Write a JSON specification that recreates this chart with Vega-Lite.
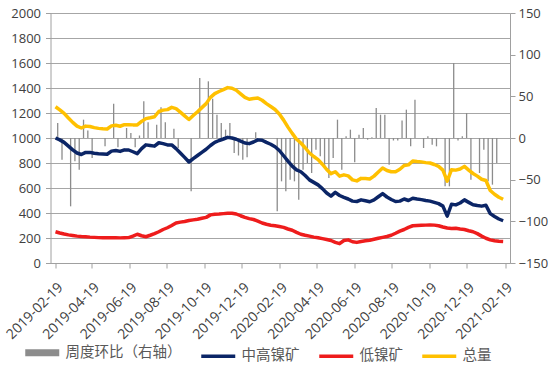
{
  "$schema": "https://vega.github.io/schema/vega-lite/v6.json",
  "width": 459.5,
  "height": 250,
  "autosize": {"type": "none"},
  "padding": {"left": 50.5, "top": 13, "right": 40, "bottom": 103},
  "background": "white",
  "config": {
    "font": "Open Sans",
    "view": {"stroke": null},
    "axis": {
      "labelFont": "Open Sans",
      "labelFontSize": 13,
      "labelColor": "#404040",
      "domainColor": "#a0a0a0",
      "tickColor": "#a0a0a0",
      "gridColor": "#a6a6a6",
      "title": null
    }
  },
  "datasets": {
    "weekly": [
      {"date": "2019-02-19", "中高镍矿": 1000, "低镍矿": 250, "总量": 1250, "周度环比": 18},
      {"date": "2019-02-26", "中高镍矿": 985, "低镍矿": 240, "总量": 1225, "周度环比": -26},
      {"date": "2019-03-05", "中高镍矿": 965, "低镍矿": 232, "总量": 1197, "周度环比": 0},
      {"date": "2019-03-12", "中高镍矿": 935, "低镍矿": 225, "总量": 1160, "周度环比": -82},
      {"date": "2019-03-19", "中高镍矿": 905, "低镍矿": 220, "总量": 1125, "周度环比": -28},
      {"date": "2019-03-26", "中高镍矿": 880, "低镍矿": 215, "总量": 1095, "周度环比": -38},
      {"date": "2019-04-02", "中高镍矿": 868, "低镍矿": 212, "总量": 1080, "周度环比": 22},
      {"date": "2019-04-09", "中高镍矿": 885, "低镍矿": 210, "总量": 1095, "周度环比": 9},
      {"date": "2019-04-16", "中高镍矿": 885, "低镍矿": 207, "总量": 1092, "周度环比": -24},
      {"date": "2019-04-23", "中高镍矿": 878, "低镍矿": 205, "总量": 1083, "周度环比": 0},
      {"date": "2019-04-30", "中高镍矿": 874, "低镍矿": 203, "总量": 1077, "周度环比": 0},
      {"date": "2019-05-07", "中高镍矿": 872, "低镍矿": 202, "总量": 1074, "周度环比": -10},
      {"date": "2019-05-14", "中高镍矿": 870, "低镍矿": 202, "总量": 1072, "周度环比": 0},
      {"date": "2019-05-21", "中高镍矿": 895, "低镍矿": 202, "总量": 1097, "周度环比": 41},
      {"date": "2019-05-28", "中高镍矿": 900, "低镍矿": 202, "总量": 1102, "周度环比": -11},
      {"date": "2019-06-04", "中高镍矿": 893, "低镍矿": 201, "总量": 1094, "周度环比": 0},
      {"date": "2019-06-11", "中高镍矿": 905, "低镍矿": 202, "总量": 1107, "周度环比": 12},
      {"date": "2019-06-18", "中高镍矿": 904, "低镍矿": 203, "总量": 1107, "周度环比": 6},
      {"date": "2019-06-25", "中高镍矿": 890, "低镍矿": 215, "总量": 1105, "周度环比": -11},
      {"date": "2019-07-02", "中高镍矿": 875, "低镍矿": 230, "总量": 1105, "周度环比": 3},
      {"date": "2019-07-09", "中高镍矿": 915, "低镍矿": 218, "总量": 1133, "周度环比": 44},
      {"date": "2019-07-16", "中高镍矿": 945, "低镍矿": 210, "总量": 1155, "周度环比": 19},
      {"date": "2019-07-23", "中高镍矿": 940, "低镍矿": 222, "总量": 1162, "周度环比": 0},
      {"date": "2019-07-30", "中高镍矿": 935, "低镍矿": 235, "总量": 1170, "周度环比": 16},
      {"date": "2019-08-06", "中高镍矿": 962, "低镍矿": 250, "总量": 1212, "周度环比": 37},
      {"date": "2019-08-13", "中高镍矿": 955, "低镍矿": 268, "总量": 1223, "周度环比": 19},
      {"date": "2019-08-20", "中高镍矿": 945, "低镍矿": 282, "总量": 1227, "周度环比": 0},
      {"date": "2019-08-27", "中高镍矿": 945, "低镍矿": 300, "总量": 1245, "周度环比": 11},
      {"date": "2019-09-03", "中高镍矿": 915, "低镍矿": 320, "总量": 1235, "周度环比": -12},
      {"date": "2019-09-10", "中高镍矿": 880, "低镍矿": 327, "总量": 1207, "周度环比": 0},
      {"date": "2019-09-17", "中高镍矿": 845, "低镍矿": 332, "总量": 1177, "周度环比": 0},
      {"date": "2019-09-24", "中高镍矿": 808, "低镍矿": 340, "总量": 1148, "周度环比": -64},
      {"date": "2019-10-01", "中高镍矿": 835, "低镍矿": 345, "总量": 1180, "周度环比": 0},
      {"date": "2019-10-08", "中高镍矿": 860, "低镍矿": 350, "总量": 1210, "周度环比": 72},
      {"date": "2019-10-15", "中高镍矿": 885, "低镍矿": 358, "总量": 1243, "周度环比": 0},
      {"date": "2019-10-22", "中高镍矿": 910, "低镍矿": 365, "总量": 1275, "周度环比": 68},
      {"date": "2019-10-29", "中高镍矿": 940, "低镍矿": 385, "总量": 1325, "周度环比": 47},
      {"date": "2019-11-05", "中高镍矿": 965, "低镍矿": 390, "总量": 1355, "周度环比": 28},
      {"date": "2019-11-12", "中高镍矿": 980, "低镍矿": 392, "总量": 1372, "周度环比": 18},
      {"date": "2019-11-19", "中高镍矿": 992, "低镍矿": 395, "总量": 1387, "周度环比": 10},
      {"date": "2019-11-26", "中高镍矿": 1005, "低镍矿": 398, "总量": 1403, "周度环比": 18},
      {"date": "2019-12-03", "中高镍矿": 1000, "低镍矿": 398, "总量": 1398, "周度环比": -18},
      {"date": "2019-12-10", "中高镍矿": 990, "低镍矿": 392, "总量": 1382, "周度环比": -21},
      {"date": "2019-12-17", "中高镍矿": 975, "低镍矿": 378, "总量": 1353, "周度环比": -26},
      {"date": "2019-12-24", "中高镍矿": 960, "低镍矿": 365, "总量": 1325, "周度环比": -23},
      {"date": "2019-12-31", "中高镍矿": 955, "低镍矿": 355, "总量": 1310, "周度环比": 0},
      {"date": "2020-01-07", "中高镍矿": 968, "低镍矿": 348, "总量": 1316, "周度环比": 7},
      {"date": "2020-01-14", "中高镍矿": 985, "低镍矿": 335, "总量": 1320, "周度环比": 0},
      {"date": "2020-01-21", "中高镍矿": 982, "低镍矿": 320, "总量": 1302, "周度环比": 0},
      {"date": "2020-01-28", "中高镍矿": 965, "低镍矿": 310, "总量": 1275, "周度环比": 0},
      {"date": "2020-02-04", "中高镍矿": 950, "低镍矿": 302, "总量": 1252, "周度环比": 0},
      {"date": "2020-02-11", "中高镍矿": 930, "低镍矿": 298, "总量": 1228, "周度环比": -88},
      {"date": "2020-02-18", "中高镍矿": 900, "低镍矿": 292, "总量": 1192, "周度环比": -52},
      {"date": "2020-02-25", "中高镍矿": 858, "低镍矿": 285, "总量": 1143, "周度环比": -64},
      {"date": "2020-03-03", "中高镍矿": 815, "低镍矿": 272, "总量": 1087, "周度环比": -50},
      {"date": "2020-03-10", "中高镍矿": 775, "低镍矿": 262, "总量": 1037, "周度环比": -52},
      {"date": "2020-03-17", "中高镍矿": 745, "低镍矿": 245, "总量": 990, "周度环比": -74},
      {"date": "2020-03-24", "中高镍矿": 730, "低镍矿": 230, "总量": 960, "周度环比": -38},
      {"date": "2020-03-31", "中高镍矿": 700, "低镍矿": 222, "总量": 922, "周度环比": -30},
      {"date": "2020-04-07", "中高镍矿": 665, "低镍矿": 215, "总量": 880, "周度环比": -42},
      {"date": "2020-04-14", "中高镍矿": 645, "低镍矿": 207, "总量": 852, "周度环比": -14},
      {"date": "2020-04-21", "中高镍矿": 625, "低镍矿": 202, "总量": 827, "周度环比": -22},
      {"date": "2020-04-28", "中高镍矿": 595, "低镍矿": 195, "总量": 790, "周度环比": -34},
      {"date": "2020-05-05", "中高镍矿": 560, "低镍矿": 188, "总量": 748, "周度环比": -48},
      {"date": "2020-05-12", "中高镍矿": 535, "低镍矿": 180, "总量": 715, "周度环比": -24},
      {"date": "2020-05-19", "中高镍矿": 565, "低镍矿": 165, "总量": 730, "周度环比": 22},
      {"date": "2020-05-26", "中高镍矿": 540, "低镍矿": 155, "总量": 695, "周度环比": -38},
      {"date": "2020-06-02", "中高镍矿": 525, "低镍矿": 180, "总量": 705, "周度环比": 2},
      {"date": "2020-06-09", "中高镍矿": 512, "低镍矿": 185, "总量": 697, "周度环比": 10},
      {"date": "2020-06-16", "中高镍矿": 495, "低镍矿": 170, "总量": 665, "周度环比": -29},
      {"date": "2020-06-23", "中高镍矿": 492, "低镍矿": 165, "总量": 657, "周度环比": 4},
      {"date": "2020-06-30", "中高镍矿": 505, "低镍矿": 172, "总量": 677, "周度环比": 12},
      {"date": "2020-07-07", "中高镍矿": 498, "低镍矿": 178, "总量": 676, "周度环比": -2},
      {"date": "2020-07-14", "中高镍矿": 490, "低镍矿": 182, "总量": 672, "周度环比": 1},
      {"date": "2020-07-21", "中高镍矿": 505, "低镍矿": 190, "总量": 695, "周度环比": 36},
      {"date": "2020-07-28", "中高镍矿": 530, "低镍矿": 198, "总量": 728, "周度环比": 28},
      {"date": "2020-08-04", "中高镍矿": 555, "低镍矿": 205, "总量": 760, "周度环比": 28},
      {"date": "2020-08-11", "中高镍矿": 528, "低镍矿": 212, "总量": 740, "周度环比": -32},
      {"date": "2020-08-18", "中高镍矿": 508, "低镍矿": 222, "总量": 730, "周度环比": -3},
      {"date": "2020-08-25", "中高镍矿": 492, "低镍矿": 238, "总量": 730, "周度环比": -3},
      {"date": "2020-09-01", "中高镍矿": 495, "低镍矿": 255, "总量": 750, "周度环比": 21},
      {"date": "2020-09-08", "中高镍矿": 512, "低镍矿": 268, "总量": 780, "周度环比": 34},
      {"date": "2020-09-15", "中高镍矿": 500, "低镍矿": 285, "总量": 785, "周度环比": -10},
      {"date": "2020-09-22", "中高镍矿": 518, "低镍矿": 298, "总量": 816, "周度环比": 46},
      {"date": "2020-09-29", "中高镍矿": 512, "低镍矿": 300, "总量": 812, "周度环比": 0},
      {"date": "2020-10-06", "中高镍矿": 507, "低镍矿": 302, "总量": 809, "周度环比": -12},
      {"date": "2020-10-13", "中高镍矿": 500, "低镍矿": 303, "总量": 803, "周度环比": 2},
      {"date": "2020-10-20", "中高镍矿": 495, "低镍矿": 305, "总量": 800, "周度环比": -8},
      {"date": "2020-10-27", "中高镍矿": 485, "低镍矿": 303, "总量": 788, "周度环比": -10},
      {"date": "2020-11-03", "中高镍矿": 475, "低镍矿": 298, "总量": 773, "周度环比": 0},
      {"date": "2020-11-10", "中高镍矿": 455, "低镍矿": 288, "总量": 743, "周度环比": -58},
      {"date": "2020-11-17", "中高镍矿": 375, "低镍矿": 280, "总量": 655, "周度环比": -58},
      {"date": "2020-11-24", "中高镍矿": 470, "低镍矿": 276, "总量": 746, "周度环比": 90},
      {"date": "2020-12-01", "中高镍矿": 465, "低镍矿": 278, "总量": 743, "周度环比": -3},
      {"date": "2020-12-08", "中高镍矿": 480, "低镍矿": 272, "总量": 752, "周度环比": 2},
      {"date": "2020-12-15", "中高镍矿": 505, "低镍矿": 268, "总量": 773, "周度环比": 30},
      {"date": "2020-12-22", "中高镍矿": 485, "低镍矿": 258, "总量": 743, "周度环比": -50},
      {"date": "2020-12-29", "中高镍矿": 466, "低镍矿": 250, "总量": 716, "周度环比": 0},
      {"date": "2021-01-05", "中高镍矿": 460, "低镍矿": 235, "总量": 695, "周度环比": -42},
      {"date": "2021-01-12", "中高镍矿": 455, "低镍矿": 215, "总量": 670, "周度环比": -14},
      {"date": "2021-01-19", "中高镍矿": 462, "低镍矿": 198, "总量": 660, "周度环比": -52},
      {"date": "2021-01-26", "中高镍矿": 395, "低镍矿": 185, "总量": 580, "周度环比": -56},
      {"date": "2021-02-02", "中高镍矿": 372, "低镍矿": 178, "总量": 550, "周度环比": -30},
      {"date": "2021-02-09", "中高镍矿": 352, "低镍矿": 174, "总量": 526, "周度环比": 0},
      {"date": "2021-02-16", "中高镍矿": 338, "低镍矿": 172, "总量": 510, "周度环比": 0}
    ]
  },
  "data": {"name": "weekly"},
  "encoding": {
    "x": {
      "field": "date",
      "type": "temporal",
      "scale": {
        "type": "utc",
        "domain": [
          {"year": 2019, "month": 2, "date": 19, "utc": true},
          {"year": 2021, "month": 2, "date": 19, "utc": true}
        ]
      },
      "axis": {
        "values": [
          {"year": 2019, "month": 2, "date": 19, "utc": true},
          {"year": 2019, "month": 4, "date": 19, "utc": true},
          {"year": 2019, "month": 6, "date": 19, "utc": true},
          {"year": 2019, "month": 8, "date": 19, "utc": true},
          {"year": 2019, "month": 10, "date": 19, "utc": true},
          {"year": 2019, "month": 12, "date": 19, "utc": true},
          {"year": 2020, "month": 2, "date": 19, "utc": true},
          {"year": 2020, "month": 4, "date": 19, "utc": true},
          {"year": 2020, "month": 6, "date": 19, "utc": true},
          {"year": 2020, "month": 8, "date": 19, "utc": true},
          {"year": 2020, "month": 10, "date": 19, "utc": true},
          {"year": 2020, "month": 12, "date": 19, "utc": true},
          {"year": 2021, "month": 2, "date": 19, "utc": true}
        ],
        "format": "%Y-%m-%d",
        "labelAngle": -45,
        "labelFontSize": 14,
        "grid": false,
        "tickSize": 5,
        "labelPadding": 12,
        "labelOverlap": false,
        "labelFlush": false
      }
    }
  },
  "layer": [
    {
      "mark": {"type": "bar", "width": 1.3, "xOffset": 2.2},
      "encoding": {
        "y": {
          "field": "周度环比",
          "type": "quantitative",
          "scale": {"domain": [-150, 150], "nice": false},
          "axis": {
            "orient": "right",
            "values": [-150, -100, -50, 0, 50, 100, 150],
            "format": "d",
            "grid": false,
            "tickSize": 5,
            "labelPadding": 3
          }
        },
        "color": {"datum": "周度环比（右轴）", "type": "nominal"}
      }
    },
    {
      "transform": [{"fold": ["中高镍矿", "低镍矿", "总量"], "as": ["series", "value"]}],
      "mark": {"type": "line", "strokeWidth": 3.5, "strokeJoin": "round"},
      "encoding": {
        "y": {
          "field": "value",
          "type": "quantitative",
          "scale": {"domain": [0, 2000], "nice": false},
          "axis": {
            "orient": "left",
            "values": [0, 200, 400, 600, 800, 1000, 1200, 1400, 1600, 1800, 2000],
            "format": "d",
            "grid": true,
            "tickSize": 5,
            "labelPadding": 5
          }
        },
        "color": {
          "field": "series",
          "type": "nominal",
          "scale": {
            "domain": ["周度环比（右轴）", "中高镍矿", "低镍矿", "总量"],
            "range": ["#8c8c8c", "#0b2566", "#ee1c1c", "#ffc000"]
          },
          "legend": {
            "orient": "none",
            "legendX": -15.5,
            "legendY": 332,
            "direction": "horizontal",
            "title": null,
            "symbolType": "stroke",
            "symbolSize": 1156,
            "symbolStrokeWidth": 3.5,
            "labelFont": "Noto Sans CJK SC",
            "labelFontSize": 14.5,
            "labelColor": "#595959",
            "labelOffset": 16,
            "columnPadding": 12,
            "encode": {
              "symbols": {
                "update": {
                  "strokeWidth": {"signal": "datum.value === '周度环比（右轴）' ? 7 : 3.5"},
                  "stroke": {"scale": "color", "field": "value"}
                }
              }
            }
          }
        }
      }
    }
  ],
  "resolve": {"scale": {"y": "independent"}}
}
